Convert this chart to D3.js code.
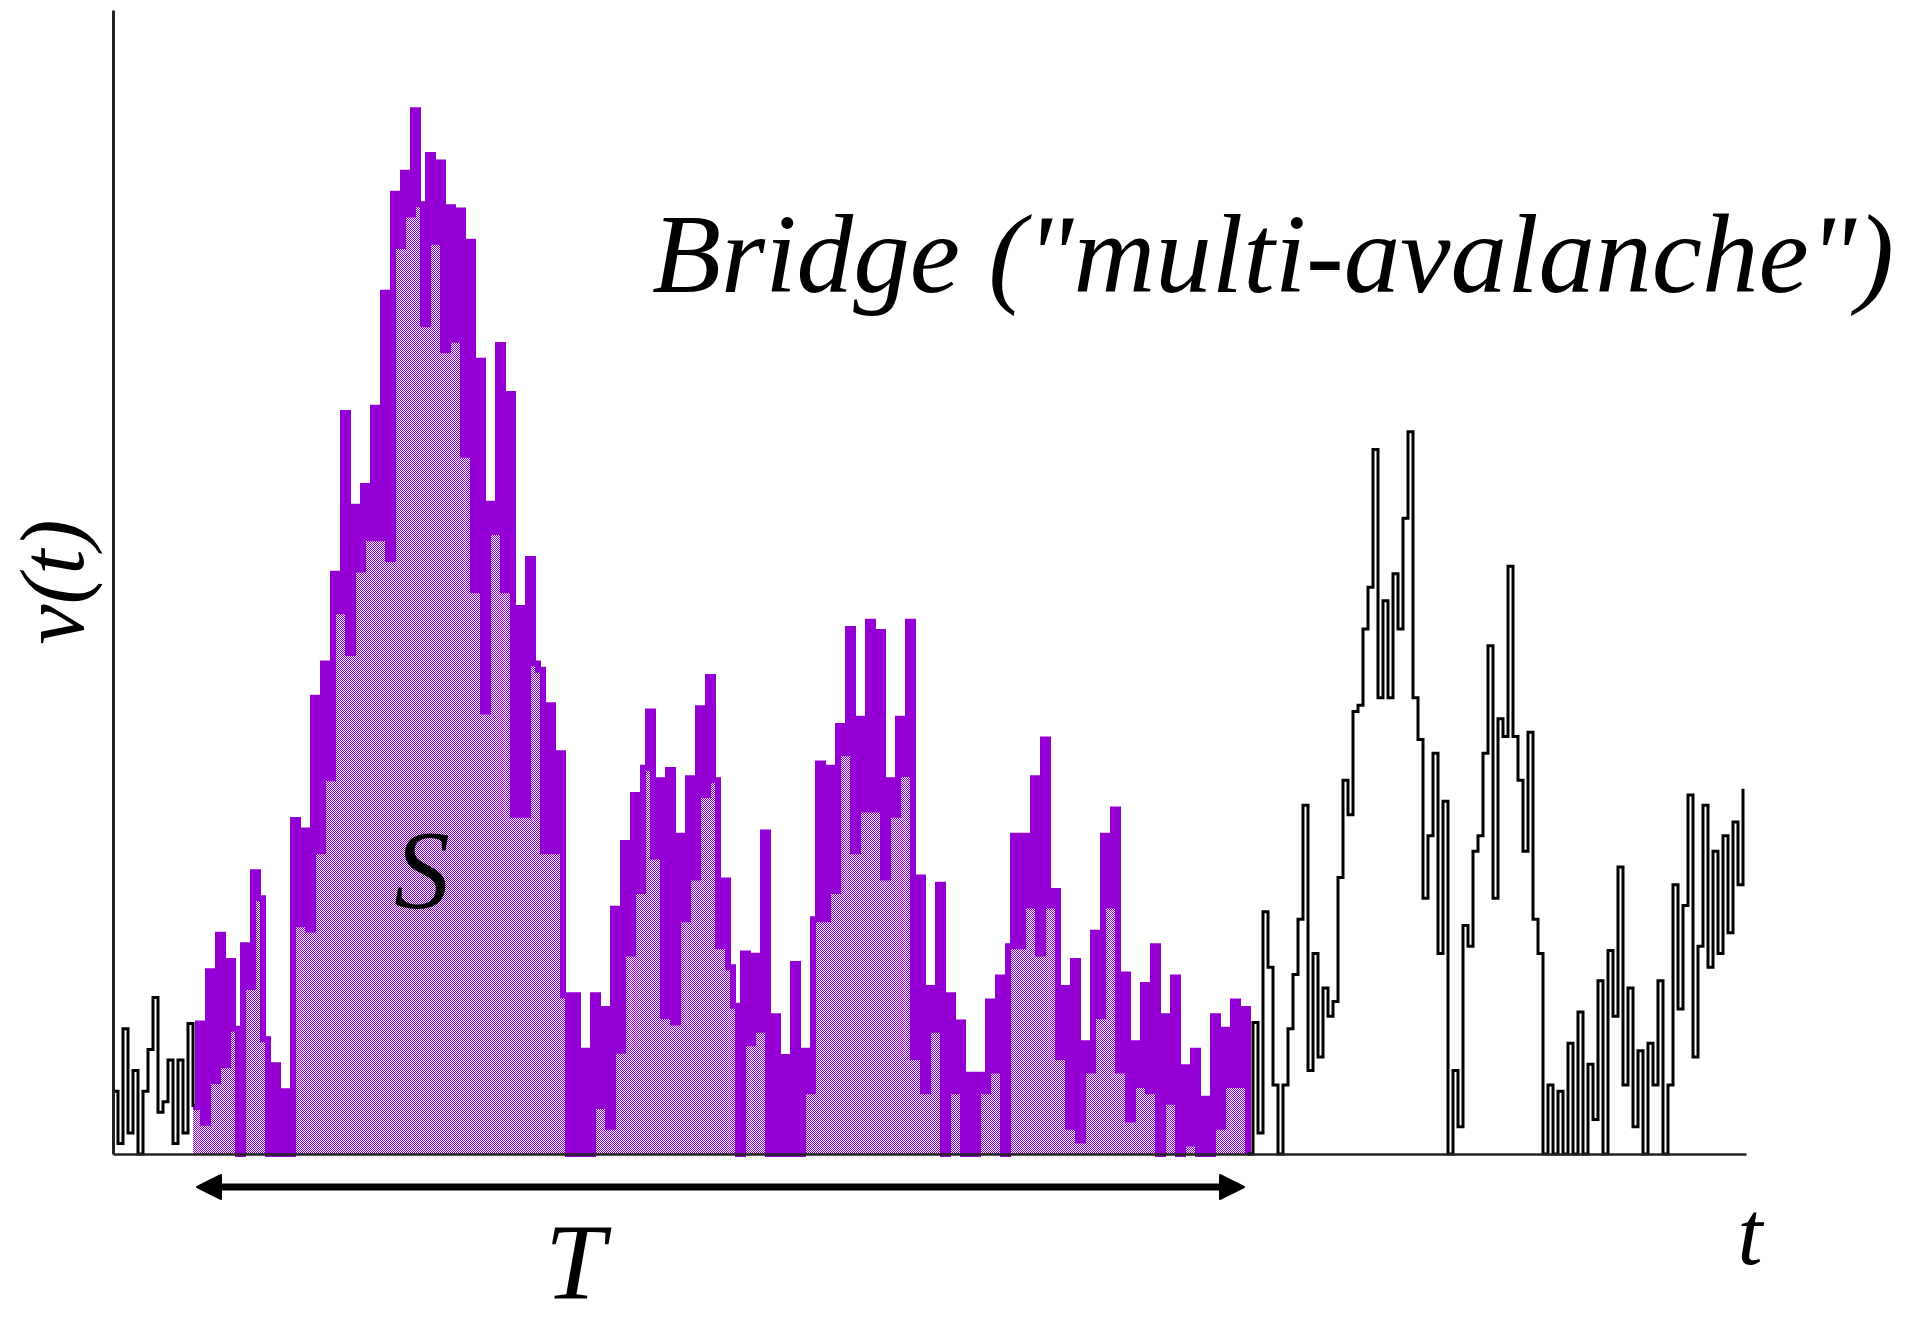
<!DOCTYPE html>
<html>
<head>
<meta charset="utf-8">
<script src="https://cdnjs.cloudflare.com/ajax/libs/d3/7.8.5/d3.min.js"></script>
<style>
  html, body { margin: 0; padding: 0; background: #ffffff; }
  svg { display: block; }
  text { font-family: "Liberation Serif", "Times New Roman", serif; font-style: italic; fill: #000; }
</style>
</head>
<body>
<svg id="chart" width="1925" height="1323"></svg>
<script>
// Velocity signal v(t), one sample per time step.
// Quiet stretch before the avalanche.
const preVelocity = [6, 1, 12, 2, 8, 0, 6, 10, 15, 4, 5, 9, 1, 9, 2, 12.5];

// The bridged multi-avalanche (shaded area S, duration T).
const avalancheVelocity = [
  4.5, 12.5, 3, 17.5, 7, 21, 8.5, 18.5, 12, 0,
  20, 16, 27, 24.5, 11, 0, 8.5, 0, 6, 0,
  32, 22, 31, 21.5, 43.7, 29, 47, 36, 55.6, 52,
  71, 48, 62, 56, 64, 59, 71.5, 59, 82.5, 57,
  92, 87, 94, 90, 100, 91, 79.5, 95.7, 87.4, 95,
  77, 90.7, 78, 90.4, 67, 87.4, 54, 76, 42.4, 62.3,
  59.6, 77.5, 54, 72.8, 32.5, 52.3, 32.5, 57, 47, 46.4,
  29, 43, 29, 38.4, 15.2, 0, 15.2, 0, 9.9, 0,
  15.2, 4.6, 13.9, 2.6, 23.5, 9.9, 29.8, 19.2, 34.4, 25.2,
  37, 42.4, 28.5, 35.8, 13.2, 36.8, 12.6, 30.5, 22.5, 36,
  26.5, 42.7, 34.4, 45.7, 35.8, 19.9, 26.2, 17.9, 14.2, 0,
  19.2, 10.6, 19, 11.9, 30.8, 0, 13.2, 0, 9.3, 0,
  18.2, 0, 9.9, 6, 22.5, 37.4, 22.5, 37, 25.2, 41,
  38.4, 50.3, 29, 41.7, 33, 51, 33, 50, 26.5, 35.8,
  32.5, 41.7, 36.4, 51, 9.3, 26.5, 6, 15.9, 11.9, 25.8,
  0, 15.2, 6, 12.6, 0, 7.6, 0, 7.6, 6, 14.6,
  8, 16.9, 0, 19.9, 30.5, 19.9, 30.5, 23.8, 36, 19.2,
  39.7, 23.8, 25.2, 9.3, 15.9, 2.6, 18.5, 1.3, 10.6, 8,
  21.2, 13.2, 30.5, 23.8, 33, 8, 17.2, 3.3, 10.6, 6.6,
  16.2, 6, 19.9, 0, 13.2, 5, 16.9, 0, 8.3, 1,
  9.9, 0, 5.3, 0, 13.2, 2.6, 11.9, 6.6, 14.6, 6.6,
  13.9, 0
];

// Signal after the avalanche has ended.
const postVelocity = [
  12.6, 2, 23.2, 17.9, 6.6, 0, 6.6, 12, 17.2, 22.5,
  33.4, 8, 19.2, 9.3, 15.9, 13.2, 14.6, 26.5, 35.8, 32.5,
  42.4, 43, 50.3, 54.3, 67.5, 43.7, 53, 43.7, 55.6, 50.3,
  60.9, 69.2, 43.7, 39.7, 24.5, 30.5, 38.4, 19.2, 33.8, 0,
  8, 2.6, 21.9, 19.9, 29, 30.5, 38.4, 48.7, 24.5, 41.7,
  40, 56.3, 40, 35.8, 29, 40.4, 22.5, 19.2, 0, 6.6,
  0, 6, 0, 10.6, 0, 13.6, 0, 8.6, 3.3, 16.6,
  0, 19.5, 13.2, 27.5, 6.6, 15.9, 2.6, 9.9, 0, 10.6,
  6.6, 16.6, 0, 6.6, 25.8, 13.9, 23.8, 34.4, 9.3, 19.9,
  33.4, 17.9, 29, 19.2, 30.5, 21.2, 31.8, 25.8, 35
];

const titleText = 'Bridge ("multi-avalanche")';
const yLabel = "v(t)";
const xLabel = "t";
const areaLabel = "S";
const durationLabel = "T";

// ---- layout ----
const svg = d3.select("#chart");
const series = preVelocity.concat(avalancheVelocity, postVelocity).map((v, i) => ({ i, v }));
const startIdx = preVelocity.length;
const endIdx = startIdx + avalancheVelocity.length - 1;

const x = d3.scaleLinear().domain([0, series.length - 0.4]).range([113, 1746]);
const y = d3.scaleLinear().domain([0, 109.6]).range([1154, 10]);

const PURPLE = "#9400d3";

// checkerboard dither used for the avalanche area
const defs = svg.append("defs");
const pat = defs.append("pattern")
  .attr("id", "dither")
  .attr("patternUnits", "userSpaceOnUse")
  .attr("width", 2).attr("height", 2);
pat.append("rect").attr("width", 2).attr("height", 2).attr("fill", "#ffffff");
pat.append("rect").attr("x", 0).attr("y", 0).attr("width", 1).attr("height", 1).attr("fill", PURPLE);
pat.append("rect").attr("x", 1).attr("y", 1).attr("width", 1).attr("height", 1).attr("fill", PURPLE);

const preSeg = series.slice(0, startIdx + 1);
const avSeg = series.slice(startIdx, endIdx + 1);
const postSeg = series.slice(endIdx);

const line = d3.line().x(d => x(d.i)).y(d => y(d.v)).curve(d3.curveStepAfter);
const area = d3.area().x(d => x(d.i)).y0(y(0)).y1(d => y(d.v)).curve(d3.curveStepAfter);

// shaded area S
svg.append("path").datum(avSeg).attr("d", area).attr("fill", "url(#dither)");

// avalanche outline
svg.append("path").datum(avSeg).attr("d", line)
  .attr("fill", "none").attr("stroke", PURPLE)
  .attr("stroke-width", 6).attr("stroke-linejoin", "miter");

// surrounding signal
[preSeg, postSeg].forEach(seg => {
  svg.append("path").datum(seg).attr("d", line)
    .attr("fill", "none").attr("stroke", "#000")
    .attr("stroke-width", 3);
});

// axes (bare lines, no ticks)
svg.append("g").attr("transform", `translate(${x(0)},0)`)
  .call(d3.axisLeft(y).tickValues([]).tickSizeOuter(0))
  .call(g => g.select(".domain").attr("stroke", "#222").attr("stroke-width", 3));
svg.append("g").attr("transform", `translate(0,${y(0)})`)
  .call(d3.axisBottom(x).tickValues([]).tickSizeOuter(0))
  .call(g => g.select(".domain").attr("stroke", "#222").attr("stroke-width", 2.5));

// duration arrow T
const ay = 1187;
const ax0 = x(startIdx) + 4, ax1 = x(endIdx) - 4;
const headL = 24, headW = 12;
svg.append("line")
  .attr("x1", ax0 + headL - 4).attr("x2", ax1 - headL + 4)
  .attr("y1", ay).attr("y2", ay)
  .attr("stroke", "#000").attr("stroke-width", 7);
svg.append("path")
  .attr("d", `M${ax0},${ay} L${ax0 + headL},${ay - headW} L${ax0 + headL},${ay + headW} Z`)
  .attr("fill", "#000").attr("stroke", "#000").attr("stroke-width", 2).attr("stroke-linejoin", "round");
svg.append("path")
  .attr("d", `M${ax1},${ay} L${ax1 - headL},${ay - headW} L${ax1 - headL},${ay + headW} Z`)
  .attr("fill", "#000").attr("stroke", "#000").attr("stroke-width", 2).attr("stroke-linejoin", "round");

// labels
svg.append("text").attr("x", 652).attr("y", 292)
  .attr("font-size", 112).attr("textLength", 1242).attr("lengthAdjust", "spacingAndGlyphs")
  .text(titleText);

svg.append("text").attr("transform", "translate(83,582) rotate(-90)")
  .attr("text-anchor", "middle").attr("font-size", 90)
  .text(yLabel);

svg.append("text").attr("x", 422).attr("y", 908)
  .attr("text-anchor", "middle").attr("font-size", 112)
  .text(areaLabel);

svg.append("text").attr("x", 575).attr("y", 1298)
  .attr("text-anchor", "middle").attr("font-size", 108)
  .text(durationLabel);

svg.append("text").attr("x", 1750).attr("y", 1264)
  .attr("text-anchor", "middle").attr("font-size", 90)
  .text(xLabel);
</script>
</body>
</html>
